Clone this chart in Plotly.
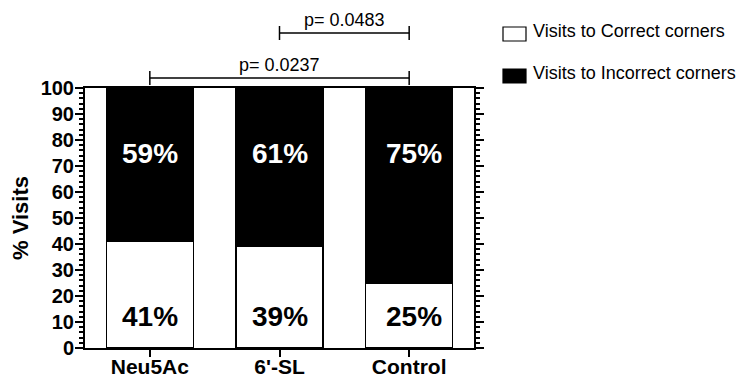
import plotly.graph_objects as go

categories = ["Neu5Ac", "6'-SL", "Control"]
correct = [41, 39, 25]
incorrect = [59, 61, 75]
y_ticks = list(range(0, 101, 10))
comparisons = [("Neu5Ac", "Control", "p= 0.0237"), ("6'-SL", "Control", "p= 0.0483")]
legend_labels = ["Visits to Correct corners", "Visits to Incorrect corners"]

FONT = "Liberation Sans, Arial, sans-serif"
OFF = 8  # page body margin
W, H = 756 - 2 * OFF, 388 - 2 * OFF
L, R, T, B = 85 - OFF, 474 - OFF, 88 - OFF, 348 - OFF


def px(x):
    return (x - OFF - L) / (R - L)


def py(y):
    return (B - (y - OFF)) / (B - T)


fig = go.Figure()
fig.add_trace(go.Bar(x=categories, y=correct, name=legend_labels[0], width=0.67,
                     marker=dict(color="white", line=dict(color="black", width=1.5))))
fig.add_trace(go.Bar(x=categories, y=incorrect, name=legend_labels[1], width=0.67,
                     marker=dict(color="black", line=dict(color="black", width=1.5))))

annotations = []
shapes = []
for i, cat in enumerate(categories):
    xs = 5 if cat == "Control" else 0
    annotations.append(dict(x=cat, y=75, xref="x", yref="y", text=f"{incorrect[i]}%",
                            showarrow=False, xshift=xs,
                            font=dict(family=FONT, size=28, color="white", weight="bold")))
    annotations.append(dict(x=cat, y=12.3, xref="x", yref="y", text=f"{correct[i]}%",
                            showarrow=False, xshift=xs,
                            font=dict(family=FONT, size=28, color="black", weight="bold")))

# significance brackets
bracket_y = [78, 33]
text_y = [65, 20]
for (a, b, label), by, ty in zip(comparisons, bracket_y, text_y):
    ia, ib = categories.index(a), categories.index(b)
    shapes.append(dict(type="line", xref="x", yref="paper", x0=ia, x1=ib, y0=py(by), y1=py(by),
                       line=dict(color="black", width=1.5)))
    for xi in (ia, ib):
        shapes.append(dict(type="line", xref="x", yref="paper", x0=xi, x1=xi,
                           y0=py(by - 7), y1=py(by + 7), line=dict(color="black", width=1.5)))
    annotations.append(dict(x=(ia + ib) / 2, y=py(ty), xref="x", yref="paper", text=label,
                            showarrow=False, yanchor="middle",
                            font=dict(family=FONT, size=18, color="black")))

# manual legend
legend_rows = [(34, "white"), (76, "black")]
for (cy, col), label in zip(legend_rows, legend_labels):
    shapes.append(dict(type="rect", xref="paper", yref="paper", x0=px(503), x1=px(526),
                       y0=py(cy + 7), y1=py(cy - 7), fillcolor=col,
                       line=dict(color="black", width=1.2)))
    annotations.append(dict(x=px(531), y=py(cy - 3), xref="paper", yref="paper", text=label,
                            showarrow=False, xanchor="left", yanchor="middle",
                            font=dict(family=FONT, size=18, color="black")))

fig.update_layout(
    width=W, height=H,
    margin=dict(l=L, r=W - R, t=T, b=H - B, pad=0),
    barmode="stack",
    showlegend=False,
    plot_bgcolor="white", paper_bgcolor="white",
    font=dict(family=FONT, color="black"),
    shapes=shapes, annotations=annotations,
)
fig.update_xaxes(range=[-0.5, 2.5], showline=True, linecolor="black", linewidth=2, mirror=True,
                 ticks="outside", ticklen=7, tickwidth=2, tickcolor="black",
                 showgrid=False, zeroline=False, automargin=False, ticklabelstandoff=-8,
                 tickfont=dict(family=FONT, size=21, color="black", weight="bold"))
fig.update_yaxes(range=[0, 100], tickvals=y_ticks, showline=True, linecolor="black", linewidth=2,
                 mirror="ticks", ticks="outside", ticklen=8, tickwidth=2, tickcolor="black",
                 minor=dict(dtick=2, ticks="outside", ticklen=4, tickwidth=1.5, tickcolor="black"),
                 showgrid=False, zeroline=False, ticklabelstandoff=-3, automargin=False,
                 tickfont=dict(family=FONT, size=20, color="black", weight="bold"),
                 title=dict(text="% Visits", standoff=10,
                            font=dict(family=FONT, size=22, color="black", weight="bold")))

fig.write_html("out.html")
